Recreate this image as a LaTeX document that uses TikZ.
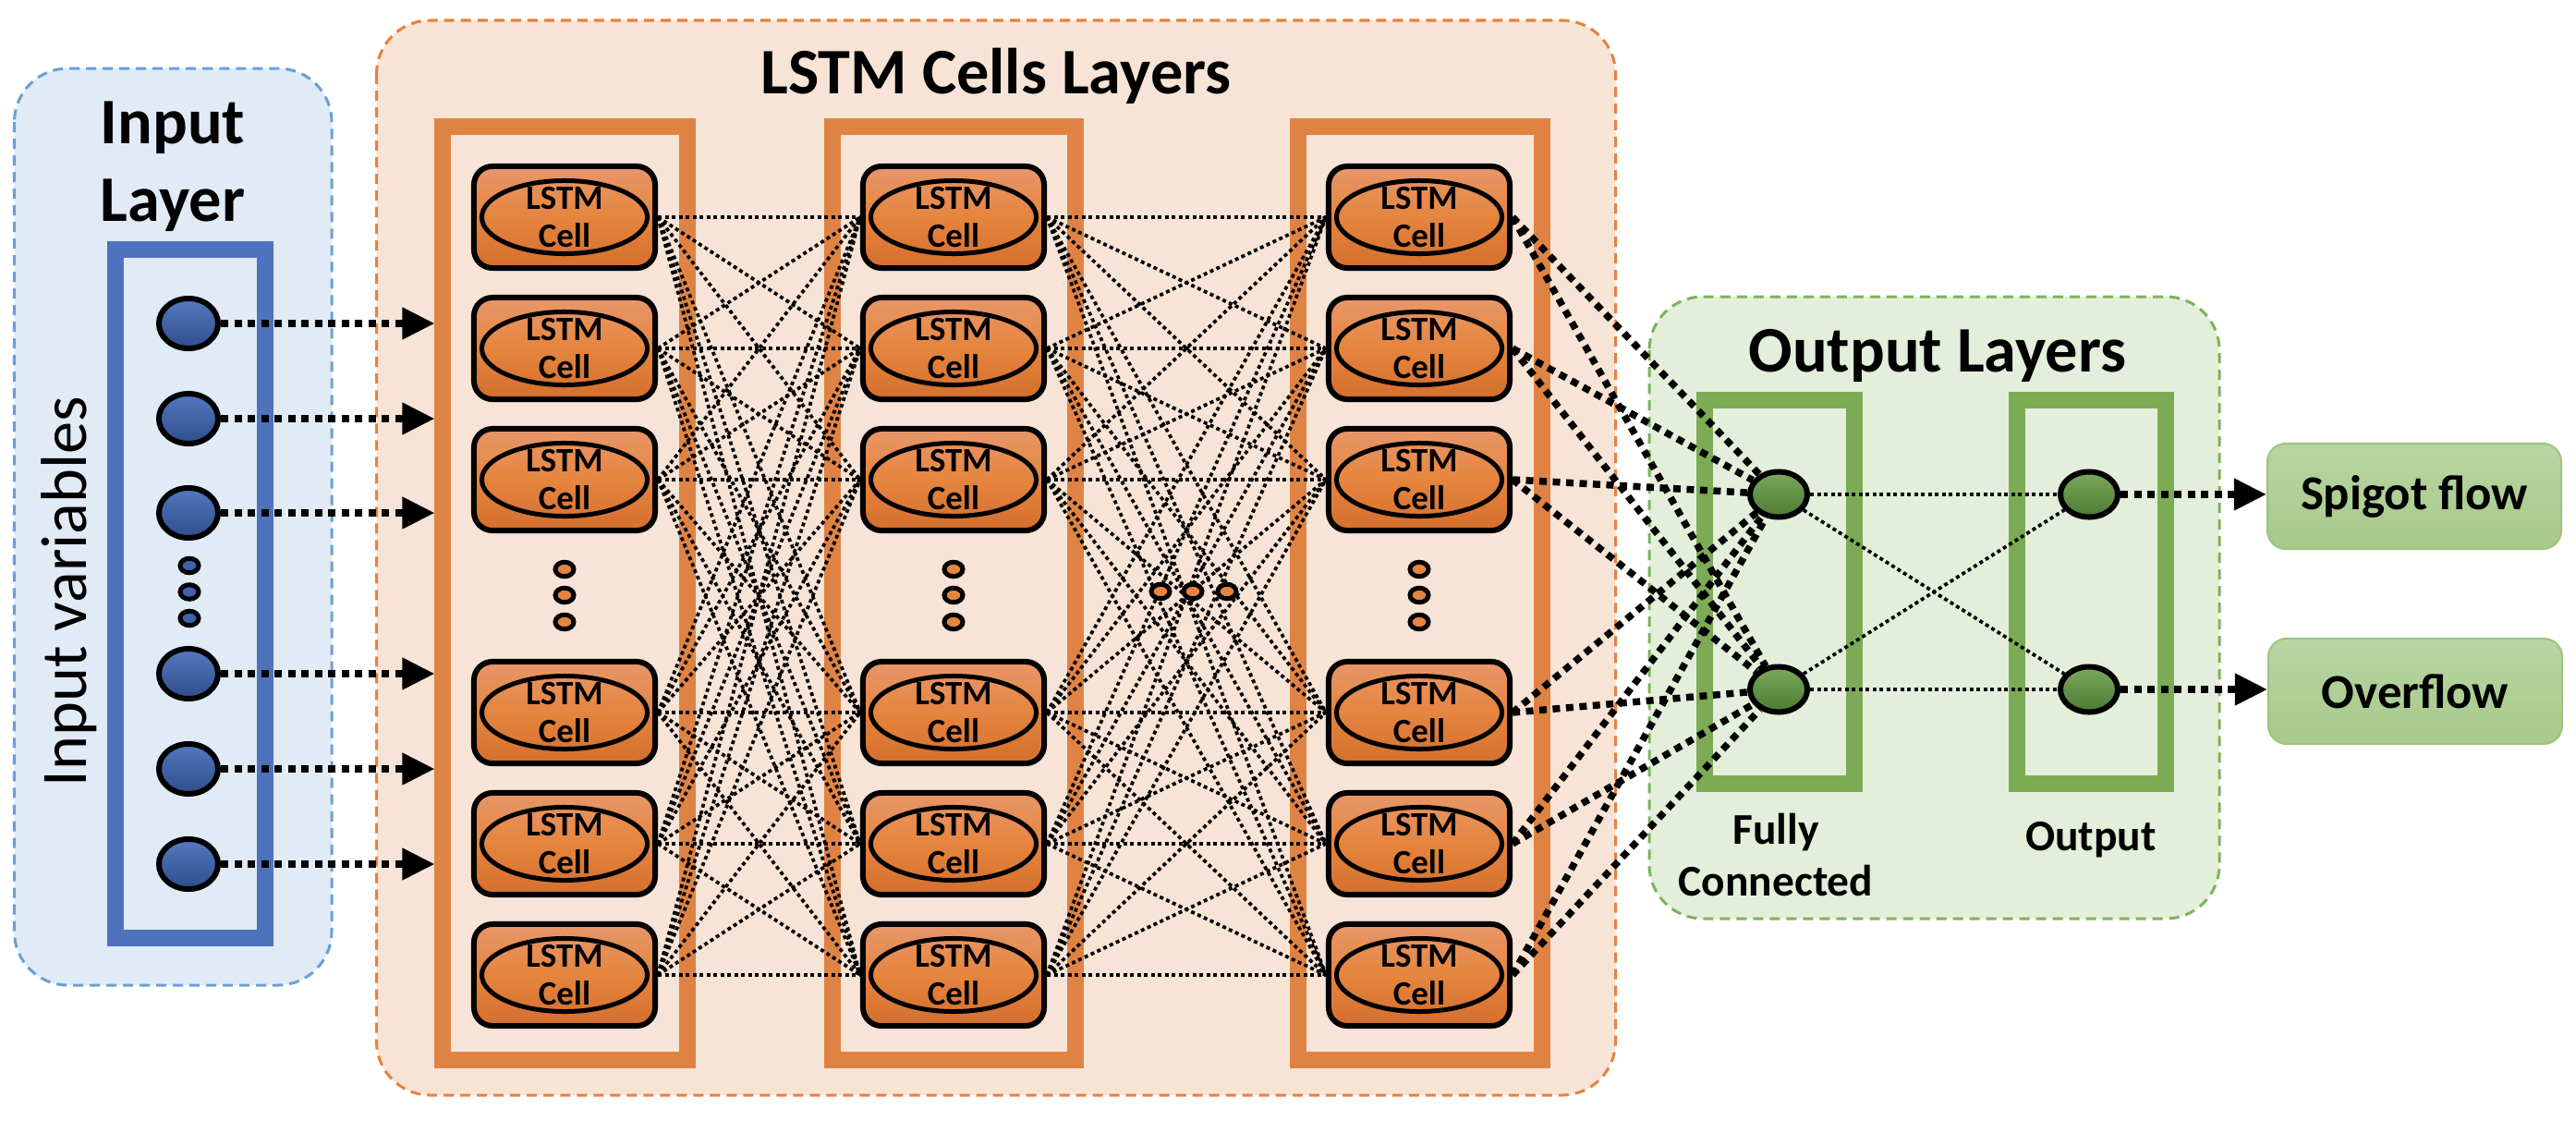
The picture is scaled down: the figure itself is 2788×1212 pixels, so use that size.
\documentclass[tikz,border=0pt]{standalone}
\usepackage{fontspec}
\setmainfont{Carlito}
\usetikzlibrary{arrows.meta,shapes.geometric}
\definecolor{cInPanel}{HTML}{E0EBF6}
\definecolor{cInBorder}{HTML}{6A9FD8}
\definecolor{cInFrame}{HTML}{4F72BF}
\definecolor{cInTop}{HTML}{5479C0}
\definecolor{cInBot}{HTML}{2F4D8B}
\definecolor{cInDot}{HTML}{3F62A8}
\definecolor{cLstmPanel}{HTML}{F7E4D6}
\definecolor{cLstmBorder}{HTML}{E9803C}
\definecolor{cLstmFrame}{HTML}{DF8344}
\definecolor{cCellTop}{HTML}{E7976A}
\definecolor{cCellMid}{HTML}{E5853F}
\definecolor{cCellBot}{HTML}{D46E2D}
\definecolor{cOutPanel}{HTML}{E3EFDA}
\definecolor{cOutBorder}{HTML}{7EB25A}
\definecolor{cOutFrame}{HTML}{7DAA55}
\definecolor{cGTop}{HTML}{7AA95B}
\definecolor{cGBot}{HTML}{4D7A33}
\definecolor{cResTop}{HTML}{B9D5A2}
\definecolor{cResBot}{HTML}{A6CA8A}
\definecolor{cResBorder}{HTML}{9DC47F}
\begin{document}
\begin{tikzpicture}[x=0.01cm, y=-0.01cm,
    panel/.style={line width=0.03cm, dash pattern=on 0.11cm off 0.07cm, rounded corners=0.58cm},
    colframe/.style={draw, line width=0.18cm, inner sep=0pt},
    cell/.style={rectangle, draw, line width=0.06cm, rounded corners=0.2cm, minimum width=1.96cm, minimum height=1.1cm, inner sep=0pt, top color=cCellTop, bottom color=cCellBot, middle color=cCellMid, align=center, font=\bfseries\fontsize{10.5}{11.7}\selectfont, path picture={\draw[line width=0.05cm] (path picture bounding box.center) ellipse (0.895cm and 0.395cm);}},
    neuronbase/.style={ellipse, draw, line width=0.06cm, inner sep=0pt},
    invar/.style={neuronbase, minimum width=0.64cm, minimum height=0.54cm, top color=cInTop, bottom color=cInBot},
    neuron/.style={neuronbase, minimum width=0.62cm, minimum height=0.49cm, top color=cGTop, bottom color=cGBot},
    moredot/.style={ellipse, draw, line width=0.05cm, minimum width=0.2cm, minimum height=0.155cm, inner sep=0pt},
    thinlink/.style={line width=0.037cm, dash pattern=on 0.04cm off 0.035cm},
    boldlink/.style={line width=0.075cm, dash pattern=on 0.08cm off 0.065cm},
    outarrow/.style={-{Triangle[length=0.35cm,width=0.33cm]}},
    headline/.style={font=\bfseries\fontsize{20}{24}\selectfont, inner sep=0pt, align=center},
    sublabel/.style={font=\bfseries\fontsize{13.5}{16.2}\selectfont, inner sep=0pt, align=center},
    resultbox/.style={rectangle, draw=cResBorder, line width=0.02cm, rounded corners=0.2cm, minimum width=3.18cm, minimum height=1.14cm, top color=cResTop, bottom color=cResBot, font=\bfseries\fontsize{15}{18}\selectfont}]
  \useasboundingbox (0,0) rectangle (2788,1212);
  % panels
  \draw[panel, draw=cInBorder, fill=cInPanel] (15.5,74) rectangle (359,1066);
  \draw[panel, draw=cLstmBorder, fill=cLstmPanel] (407.5,22) rectangle (1748.5,1185);
  \draw[panel, draw=cOutBorder, fill=cOutPanel] (1785,321) rectangle (2402,994);
  % titles
  \node[headline, anchor=north] (inTitle) at (187,109) {Input\\Layer};
  \node[headline, anchor=base] (lstmTitle) at (1078,101.5) {LSTM Cells Layers};
  \node[headline, anchor=base] (outTitle) at (2097,402) {Output Layers};
  \node[rotate=90, anchor=base, inner sep=0pt, font=\fontsize{20}{24}\selectfont] (inVars) at (93,640) {Input variables};
  % frames
  \node[colframe, draw=cInFrame, minimum width=1.62cm, minimum height=7.45cm] (inCol) at (206,642.5) {};
  \node[colframe, draw=cLstmFrame, minimum width=2.64cm, minimum height=10.1cm] (colA) at (611.5,642) {};
  \node[colframe, draw=cLstmFrame, minimum width=2.63cm, minimum height=10.1cm] (colB) at (1032.5,642) {};
  \node[colframe, draw=cLstmFrame, minimum width=2.635cm, minimum height=10.1cm] (colC) at (1537,642) {};
  \node[colframe, draw=cOutFrame, minimum width=1.62cm, minimum height=4.15cm] (fcCol) at (1926,640.5) {};
  \node[colframe, draw=cOutFrame, minimum width=1.61cm, minimum height=4.15cm] (outCol) at (2263.5,640.5) {};
  % input units
  \foreach \y [count=\i] in {350,453,555,729,832,935}
    \node[invar] (in\i) at (204,\y) {};
  \foreach \y [count=\i] in {612,640.5,669}
    \node[moredot, fill=cInDot] (inDot\i) at (205,\y) {};
  % lstm cells
  \foreach \y [count=\i] in {235,377,519,771,913,1055} {
    \node[cell] (a\i) at (611,\y) {LSTM\\Cell};
    \node[cell] (b\i) at (1032,\y) {LSTM\\Cell};
    \node[cell] (c\i) at (1536,\y) {LSTM\\Cell};
  }
  \foreach \y [count=\i] in {616,644,673} {
    \node[moredot, fill=cCellMid] (aDot\i) at (611,\y) {};
    \node[moredot, fill=cCellMid] (bDot\i) at (1032,\y) {};
    \node[moredot, fill=cCellMid] (cDot\i) at (1536,\y) {};
  }
  % output units
  \node[neuron] (fc1) at (1925,535) {};
  \node[neuron] (fc2) at (1925,746) {};
  \node[neuron] (out1) at (2261,535) {};
  \node[neuron] (out2) at (2261,746) {};
  \node[sublabel, anchor=north] (fcLabel) at (1922,879) {Fully\\Connected};
  \node[sublabel, anchor=base] (outLabel) at (2263,920) {Output};
  \node[resultbox] (spigot) at (2613,537) {Spigot flow};
  \node[resultbox] (overflow) at (2614,748) {Overflow};
  % links
  \foreach \i in {1,...,6}
    \draw[boldlink, outarrow] (in\i) -- (in\i -| colA.west);
  \foreach \i in {1,...,6}
    \foreach \j in {1,...,6} {
      \draw[thinlink] (a\i.east) -- (b\j.west);
      \draw[thinlink] (b\i.east) -- (c\j.west);
    }
  \foreach \i in {1,...,6}
    \foreach \j in {1,2}
      \draw[boldlink] (c\i.east) -- (fc\j);
  \foreach \i in {1,2}
    \foreach \j in {1,2}
      \draw[thinlink] (fc\i) -- (out\j);
  \draw[boldlink, outarrow] (out1) -- (out1 -| spigot.west);
  \draw[boldlink, outarrow] (out2) -- (out2 -| overflow.west);
  % dots between the layers
  \foreach \x [count=\i] in {1256,1291,1328}
    \node[moredot, fill=cCellMid] (midDot\i) at (\x,640) {};
\end{tikzpicture}
\end{document}
